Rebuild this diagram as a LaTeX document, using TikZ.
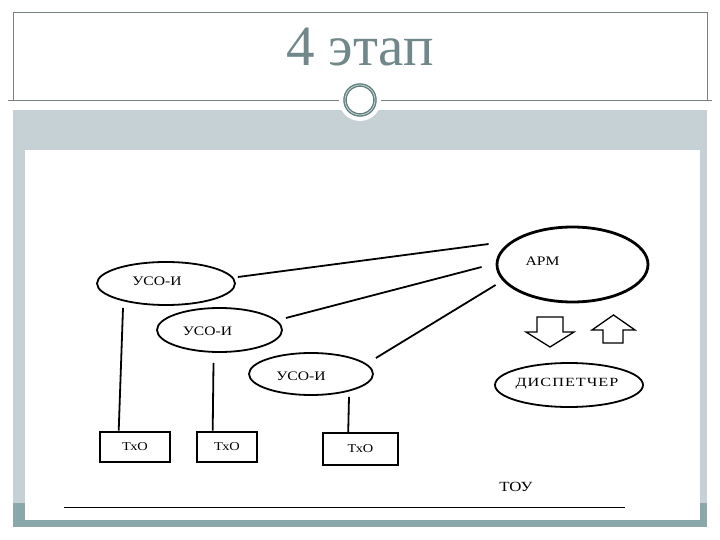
\documentclass[tikz,border=0pt]{standalone}
\usepackage{fontspec}
\setmainfont{Liberation Serif}
\newfontfamily\diagfont[FakeStretch=1.2]{Liberation Serif}
\newfontfamily\dispfont[FakeStretch=1.3, LetterSpace=8]{Liberation Serif}
\usepackage{tikz}
\usetikzlibrary{positioning, calc, shapes.geometric}
\usepackage{xcolor}
\definecolor{titlecol}{RGB}{112,136,138}
\definecolor{rulecol}{RGB}{120,128,128}
\definecolor{bandgray}{RGB}{198,209,214}
\definecolor{bandteal}{RGB}{138,168,170}
\definecolor{ringcol}{RGB}{95,125,125}

\begin{document}
\begin{tikzpicture}[x=1pt, y=-1pt,
    oval/.style={draw, ellipse, line width=1.8pt, inner sep=0pt},
    txo/.style={draw, rectangle, inner sep=0pt, font=\diagfont\fontsize{12}{12}\selectfont},
    lbl/.style={font=\diagfont\fontsize{13}{13}\selectfont},
    link/.style={line width=1.8pt},
    blk/.style={draw, line width=1.3pt, line join=miter}]
  \useasboundingbox (0,0) rectangle (720,540);
  % slide frame
  \fill[bandgray] (13,110) rectangle (707,520);
  \fill[bandteal] (13,503) rectangle (707,527);
  \fill[white] (25,150) rectangle (700,520);
  \draw[rulecol, line width=0.6pt] (13,100) -- (13,12) -- (707,12) -- (707,100);
  \draw[rulecol, line width=0.8pt] (8,100) -- (712,100);
  \fill[white] (360,100) circle (21);
  \draw[ringcol, line width=3.5pt] (360,100) circle (15);
  \draw[white!70!ringcol, line width=0.8pt] (360,100) circle (15);
  \node[titlecol, font=\fontsize{57}{57}\selectfont, anchor=base] (title) at (360,66) {4 этап};

  % nodes
  \node[oval, minimum width=138, minimum height=43] (u1) at (166,283.5) {};
  \node[oval, minimum width=125, minimum height=44] (u2) at (219.5,330) {};
  \node[oval, minimum width=124, minimum height=42] (u3) at (311,374) {};
  \node[oval, line width=2.8pt, minimum width=151, minimum height=75] (arm) at (572.5,264.5) {};
  \node[oval, minimum width=148, minimum height=44] (disp) at (569,385) {};
  \node[lbl] (u1t) at ($(u1)+(-9,-2)$) {УСО-И};
  \node[lbl] (u2t) at ($(u2)+(-12,1)$) {УСО-И};
  \node[lbl] (u3t) at ($(u3)+(-10,2)$) {УСО-И};
  \node[lbl] (armt) at ($(arm)+(-30,-3)$) {АРМ};
  \node[font=\dispfont\fontsize{12.5}{12.5}\selectfont] (dispt) at ($(disp)+(-2,-1)$) {ДИСПЕТЧЕР};

  \node[txo, line width=2.6pt, minimum width=70, minimum height=30] (t1) at (135,447) {ТхО};
  \node[txo, line width=2.6pt, minimum width=60, minimum height=30] (t2) at (227,447) {ТхО};
  \node[txo, line width=1.6pt, minimum width=75, minimum height=32] (t3) at (360.5,449) {ТхО};
  \node[lbl, font=\diagfont\fontsize{14}{14}\selectfont] (tou) at (516,487) {ТОУ};

  % connectors
  \draw[link] ($(u1.east)+(2,-6.5)$) -- ($(arm.west)+(-7,-20.5)$);
  \draw[link] ($(u2.east)+(3,-12)$) -- ($(arm.west)+(-14,2.5)$);
  \draw[link] ($(u3.east)+(2,-16)$) -- ($(arm.west)+(0,20.5)$);
  \draw[link] ($(u1.south)+(-43,2)$) -- ($(t1.north west)+(20,0)$);
  \draw[link] ($(u2.south)+(-6,10)$) -- ($(t2.north west)+(17,0)$);
  \draw[link] ($(u3.south)+(38,1)$) -- ($(t3.north west)+(26,0)$);

  % block arrows
  \draw[blk] (537,317) -- (563,317) -- (563,332) -- (574,332) -- (550,347) -- (526,332) -- (537,332) -- cycle;
  \draw[blk] (603,343) -- (623,343) -- (623,330) -- (635,330) -- (613.5,315) -- (592,330) -- (603,330) -- cycle;

  \draw[line width=1pt] (64,507) -- (625,507);
\end{tikzpicture}
\end{document}
